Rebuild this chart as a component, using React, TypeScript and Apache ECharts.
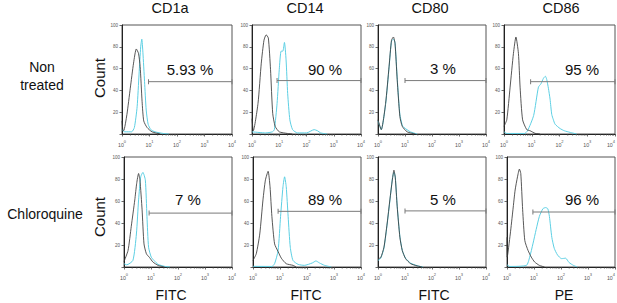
import React, { useEffect, useRef } from "react";
import * as echarts from "echarts";

// ---------- data ----------
const MARKERS = ["CD1a", "CD14", "CD80", "CD86"];
const ROW_LABELS = ["Non\ntreated", "Chloroquine"];
const CHANNELS = ["FITC", "FITC", "FITC", "PE"];
const PERCENTS_NT = ["5.93 %", "90 %", "3 %", "95 %"];
const PERCENTS_CQ = ["7 %", "89 %", "5 %", "96 %"];
// gate start (fluorescence) and height (count); gate ends at 10^4
const GATES_NT = [[9.2, 48], [8.3, 49], [10, 49], [9.1, 48]];
const GATES_CQ = [[8.5, 49], [8.5, 50.6], [10, 51], [9.1, 50]];
const X_MIN = 1;
const X_MAX = 10000;
const MINOR_TICKS = [
  2, 3, 4, 5, 6, 7, 8, 9,
  20, 30, 40, 50, 60, 70, 80, 90,
  200, 300, 400, 500, 600, 700, 800, 900,
  2000, 3000, 4000, 5000, 6000, 7000, 8000, 9000,
];

// Non treated — control (black) and stained (cyan) histograms: [fluorescence, count]
const NT_CD1A_CTRL = [[1, 12], [1.07, 4], [1.15, 3], [1.51, 18], [2.0, 42], [2.63, 65], [3.31, 78], [3.98, 74], [4.57, 62], [5.37, 30], [6.17, 12], [8.13, 6], [12.3, 2], [24.5, 0]];
const NT_CD1A_STAIN = [[1, 4], [1.26, 2], [2.24, 2], [2.82, 6], [3.55, 25], [4.17, 55], [4.79, 80], [5.25, 87], [5.75, 75], [6.61, 48], [7.59, 22], [8.91, 9], [11.2, 4], [15.8, 2], [31.6, 0.5], [50.1, 0]];
const NT_CD14_CTRL = [[1, 14], [1.12, 3], [1.66, 28], [2.19, 65], [2.75, 86], [3.31, 91], [3.98, 88], [4.79, 59], [5.75, 19], [7.08, 7], [10, 2], [20, 0.5], [30, 0]];
const NT_CD14_STAIN = [[1, 2], [3.16, 1], [5.62, 2], [6.61, 4], [8.32, 28], [10, 59], [11.7, 76], [13.5, 76], [15.5, 84], [17.8, 68], [20.4, 37], [24.5, 13], [30.9, 4], [46.8, 1], [100, 1], [191, 4], [251, 3], [331, 1], [575, 0]];
const NT_CD80_CTRL = [[1, 13], [1.32, 4], [1.91, 28], [2.57, 62], [3.16, 86], [3.72, 89], [4.27, 83], [5.13, 50], [6.46, 16], [7.94, 7], [12, 2], [24.5, 0]];
const NT_CD80_STAIN = [[1, 12], [1.32, 4], [1.91, 27], [2.57, 61], [3.16, 85], [3.72, 87], [4.27, 84], [5.13, 52], [6.46, 18], [7.94, 8], [9.12, 6], [15.8, 2], [28.2, 0]];
const NT_CD86_CTRL = [[1, 7], [1.26, 13], [1.66, 43], [2.19, 74], [2.69, 89], [3.31, 74], [3.8, 43], [4.68, 13], [6.61, 4], [8.71, 3], [13.2, 0.6], [20, 0]];
const NT_CD86_STAIN = [[1, 2], [1.26, 0.5], [5.5, 0.5], [7.08, 3], [11.7, 17], [17.4, 43], [21.4, 46], [26.3, 51], [30.9, 53], [34.7, 50], [39.8, 42], [45.7, 32], [52.5, 18], [60.3, 13], [69.2, 9], [105, 5], [148, 3], [240, 1.5], [417, 0]];

// Chloroquine
const CQ_CD1A_CTRL = [[1, 5], [1.41, 15], [1.86, 37], [2.51, 61], [2.95, 76], [3.47, 85], [3.89, 79], [4.68, 52], [5.5, 21], [6.76, 12], [8.91, 8.5], [11.7, 4.6], [18.2, 1.5], [31.6, 0]];
const CQ_CD1A_STAIN = [[1, 3], [1.26, 2], [2.14, 6], [2.88, 30], [3.47, 61], [4.17, 82], [5.01, 86], [6.17, 79], [7.08, 46], [8.13, 18], [10.2, 9], [12.9, 6], [18.2, 2.4], [31.6, 0.6], [50, 0]];
const CQ_CD14_CTRL = [[1, 6], [1.32, 12], [1.78, 30], [2.34, 61], [2.88, 79], [3.63, 87], [4.27, 73], [5.01, 46], [6.31, 21], [8.51, 14], [11.2, 8], [17, 3], [30.2, 1.5], [39.8, 0]];
const CQ_CD14_STAIN = [[1, 0.6], [5, 0.5], [6.31, 3], [8.51, 15], [10.5, 46], [12.9, 73], [14.8, 82], [17, 73], [20, 46], [24, 18], [30.2, 6], [46.8, 2.4], [79.4, 1.5], [158, 3.7], [214, 5.5], [288, 3.7], [447, 1.5], [794, 0]];
const CQ_CD80_CTRL = [[1, 7.6], [1.26, 8.5], [1.66, 18], [2.19, 40], [2.75, 61], [3.39, 79], [3.89, 88], [4.37, 81], [5.13, 55], [6.46, 27], [7.94, 15], [10.5, 7.6], [16.2, 3], [28.2, 1], [43.7, 0]];
const CQ_CD80_STAIN = [[1, 6], [1.26, 8], [1.66, 17], [2.19, 39], [2.75, 60], [3.39, 80], [3.89, 86], [4.37, 82], [5.13, 56], [6.46, 28], [7.94, 15], [10.5, 8], [16.2, 3.5], [28.2, 1.2], [45.7, 0]];
const CQ_CD86_CTRL = [[1, 27], [1.02, 9], [1.32, 30], [1.66, 52], [2.0, 70], [2.45, 82], [2.88, 89], [3.24, 85], [3.8, 52], [4.57, 24], [6.03, 15], [7.94, 9], [10.5, 4.6], [15.8, 1.5], [24.5, 0]];
const CQ_CD86_STAIN = [[1, 2], [1.26, 0.5], [5.25, 1.5], [6.92, 9], [9.12, 21], [12, 34], [15.8, 46], [21.4, 53], [26.9, 54], [32.4, 53], [37.2, 46], [45.7, 27], [56.2, 17], [74.1, 11], [105, 7.6], [148, 8], [200, 4], [288, 1.5], [400, 0]];

const CTRL_ROWS = [
  [NT_CD1A_CTRL, NT_CD14_CTRL, NT_CD80_CTRL, NT_CD86_CTRL],
  [CQ_CD1A_CTRL, CQ_CD14_CTRL, CQ_CD80_CTRL, CQ_CD86_CTRL],
];
const STAIN_ROWS = [
  [NT_CD1A_STAIN, NT_CD14_STAIN, NT_CD80_STAIN, NT_CD86_STAIN],
  [CQ_CD1A_STAIN, CQ_CD14_STAIN, CQ_CD80_STAIN, CQ_CD86_STAIN],
];
const GATE_ROWS = [GATES_NT, GATES_CQ];
const PERCENT_ROWS = [PERCENTS_NT, PERCENTS_CQ];

// ---------- layout ----------
const W = 617;
const H = 303;
const GRID_TOP = [25, 157];
const GRID_H = [109, 110];
const COL_LEFT = [[122, 252, 378, 504], [124, 253, 378, 507]];
const COL_W = [[110, 109, 108, 111], [108, 108, 108, 108]];
const TITLE_X = [170, 305, 430, 561];
const CHANNEL_X = [171, 306, 434, 564];
const PCT_POS = [
  [[190, 69], [325, 69], [443, 68], [582, 69]],
  [[188, 199], [325, 199], [443, 199], [582, 199]],
];
const FONT = "'Liberation Sans', Arial, Helvetica, sans-serif";
const CTRL_COLOR = "#3a3a3a";
const STAIN_COLOR = "#5ccfe3";
const GATE_COLOR = "#7a7a7a";

function buildOption() {
  const grid: any[] = [];
  const xAxis: any[] = [];
  const yAxis: any[] = [];
  const series: any[] = [];
  const graphic: any[] = [];

  for (let r = 0; r < 2; r++) {
    for (let c = 0; c < 4; c++) {
      const idx = grid.length;
      grid.push({
        left: COL_LEFT[r][c],
        top: GRID_TOP[r],
        width: COL_W[r][c],
        height: GRID_H[r],
        show: true,
        borderColor: "#555",
        borderWidth: 1,
        outerBoundsMode: "none",
        containLabel: false,
      });
      xAxis.push({
        type: "log",
        logBase: 10,
        gridIndex: idx,
        min: X_MIN,
        max: X_MAX,
        axisLine: { show: true, lineStyle: { color: "#222", width: 1 } },
        axisTick: { show: true, length: 2.5, lineStyle: { color: "#444", width: 0.8 } },
        splitLine: { show: false },
        minorTick: { show: false },
        axisLabel: {
          show: true,
          margin: 5,
          color: "#555",
          fontFamily: FONT,
          alignMaxLabel: c === 3 ? "right" : undefined,
          formatter: (v: number) => `{b|10}{s|${Math.round(Math.log10(v))}}`,
          rich: {
            b: { fontSize: 5.3, lineHeight: 8, verticalAlign: "bottom", fontFamily: FONT, color: "#555" },
            s: { fontSize: 4, lineHeight: 8, verticalAlign: "top", fontFamily: FONT, color: "#555" },
          },
        },
      });
      yAxis.push({
        type: "value",
        gridIndex: idx,
        min: 0,
        max: 100,
        interval: 20,
        axisLine: { show: true, lineStyle: { color: "#222", width: 1 } },
        axisTick: { show: true, length: 2.5, lineStyle: { color: "#444", width: 0.8 } },
        splitLine: { show: false },
        axisLabel: {
          show: true,
          margin: 4,
          fontSize: 4.5,
          color: "#555",
          fontFamily: FONT,
          formatter: (v: number) => (v === 0 ? "" : String(v)),
        },
      });

      series.push({
        type: "line",
        xAxisIndex: idx,
        yAxisIndex: idx,
        data: STAIN_ROWS[r][c],
        showSymbol: false,
        smooth: 0.2,
        lineStyle: { color: STAIN_COLOR, width: 1 },
        itemStyle: { color: STAIN_COLOR },
        silent: true,
        z: 3,
      });
      series.push({
        type: "line",
        xAxisIndex: idx,
        yAxisIndex: idx,
        data: CTRL_ROWS[r][c],
        showSymbol: false,
        smooth: 0.2,
        lineStyle: { color: CTRL_COLOR, width: 1, opacity: 0.85 },
        itemStyle: { color: CTRL_COLOR },
        silent: true,
        z: 4,
      });
      const g = GATE_ROWS[r][c];
      series.push({
        type: "line",
        xAxisIndex: idx,
        yAxisIndex: idx,
        data: [[g[0], g[1]], [X_MAX, g[1]]],
        showSymbol: true,
        symbol: "rect",
        symbolSize: [1, 5],
        clip: false,
        lineStyle: { color: GATE_COLOR, width: 1 },
        itemStyle: { color: GATE_COLOR },
        silent: true,
        z: 5,
      });
      series.push({
        type: "scatter",
        xAxisIndex: idx,
        yAxisIndex: idx,
        data: MINOR_TICKS.map((v) => [v, 0]),
        symbol: "rect",
        symbolSize: [0.6, 1.8],
        symbolOffset: [0, 1],
        clip: false,
        itemStyle: { color: "#555" },
        silent: true,
        z: 2,
      });

      const p = PCT_POS[r][c];
      graphic.push({
        type: "text",
        x: p[0],
        y: p[1],
        style: {
          text: PERCENT_ROWS[r][c],
          font: `15px ${FONT}`,
          fill: "#111",
          textAlign: "center",
          textVerticalAlign: "middle",
        },
      });
    }
  }

  MARKERS.forEach((m, c) => {
    graphic.push({
      type: "text",
      x: TITLE_X[c],
      y: 8,
      style: { text: m, font: `14.5px ${FONT}`, fill: "#111", textAlign: "center", textVerticalAlign: "middle" },
    });
    graphic.push({
      type: "text",
      x: CHANNEL_X[c],
      y: 295,
      style: { text: CHANNELS[c], font: `14px ${FONT}`, fill: "#111", textAlign: "center", textVerticalAlign: "middle" },
    });
  });

  graphic.push({
    type: "text",
    x: 42,
    y: 76,
    style: { text: ROW_LABELS[0], font: `14px ${FONT}`, lineHeight: 18, fill: "#111", textAlign: "center", textVerticalAlign: "middle" },
  });
  graphic.push({
    type: "text",
    x: 45,
    y: 214,
    style: { text: ROW_LABELS[1], font: `14px ${FONT}`, fill: "#111", textAlign: "center", textVerticalAlign: "middle" },
  });
  [78, 217].forEach((cy) => {
    graphic.push({
      type: "text",
      x: 99,
      y: cy,
      rotation: Math.PI / 2,
      style: { text: "Count", font: `15px ${FONT}`, fill: "#111", textAlign: "center", textVerticalAlign: "middle" },
    });
  });

  return {
    animation: false,
    backgroundColor: "#ffffff",
    textStyle: { fontFamily: FONT },
    grid,
    xAxis,
    yAxis,
    series,
    graphic,
  };
}

export default function App() {
  const ref = useRef<HTMLDivElement>(null);
  useEffect(() => {
    if (!ref.current) return;
    const chart = echarts.init(ref.current, undefined, { renderer: "svg" });
    chart.setOption(buildOption() as any);
    return () => chart.dispose();
  }, []);
  return (
    <div
      ref={ref}
      style={{ position: "absolute", left: 0, top: 0, width: W, height: H, background: "#fff" }}
    />
  );
}
